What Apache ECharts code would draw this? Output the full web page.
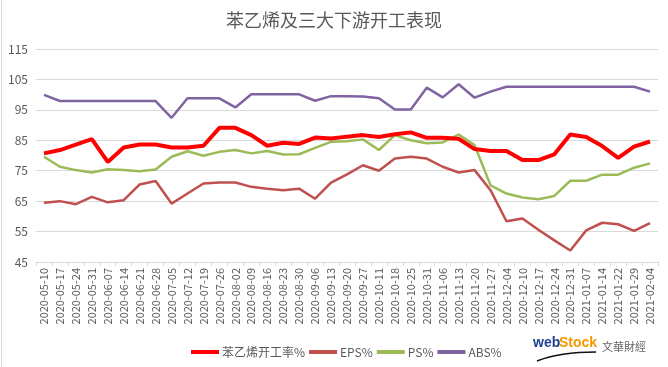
<!DOCTYPE html>
<html>
<head>
<meta charset="utf-8">
<script src="https://cdn.jsdelivr.net/npm/echarts@6/dist/echarts.min.js"></script>
<style>html,body{margin:0;padding:0;background:#fff}#c{width:668px;height:367px}</style>
</head>
<body>
<div id="c"></div>
<script>
var categories = ['2020-05-10','2020-05-17','2020-05-24','2020-05-31','2020-06-07','2020-06-14','2020-06-21','2020-06-28','2020-07-05','2020-07-12','2020-07-19','2020-07-26','2020-08-02','2020-08-09','2020-08-16','2020-08-23','2020-08-30','2020-09-06','2020-09-13','2020-09-20','2020-09-27','2020-10-11','2020-10-18','2020-10-25','2020-10-31','2020-11-06','2020-11-13','2020-11-20','2020-11-27','2020-12-04','2020-12-10','2020-12-17','2020-12-24','2020-12-31','2021-01-07','2021-01-14','2021-01-22','2021-01-29','2021-02-04'];
var styrene = [80.7,81.8,83.6,85.4,77.9,82.6,83.6,83.6,82.6,82.6,83.2,89.1,89.1,86.7,83.2,84.2,83.8,85.9,85.6,86.2,86.7,86.1,87.0,87.6,85.8,85.8,85.5,82.1,81.5,81.5,78.5,78.5,80.4,86.9,86.1,83.1,79.2,82.9,84.6];
var eps = [64.5,65.0,64.0,66.4,64.6,65.3,70.5,71.6,64.2,67.5,70.8,71.1,71.1,69.7,69.1,68.6,69.1,65.8,71.1,73.8,76.8,75.0,79.0,79.6,79.0,76.3,74.4,75.2,68.6,58.4,59.3,55.6,52.1,48.8,55.4,57.9,57.4,55.2,57.8];
var ps = [79.6,76.3,75.2,74.4,75.5,75.2,74.8,75.4,79.6,81.4,79.9,81.2,81.8,80.7,81.5,80.3,80.4,82.5,84.5,84.7,85.3,81.8,86.7,85.0,84.0,84.3,86.9,83.4,70.2,67.5,66.2,65.6,66.7,71.7,71.7,73.7,73.7,76.0,77.4];
var abs = [99.9,97.9,97.9,97.9,97.9,97.9,97.9,97.9,92.4,98.8,98.8,98.8,95.8,100.1,100.1,100.1,100.1,98.0,99.5,99.5,99.4,98.8,95.1,95.1,102.3,99.1,103.4,99.0,101.0,102.6,102.6,102.6,102.6,102.6,102.6,102.6,102.6,102.6,101.0];
var seriesNames = ['苯乙烯开工率%','EPS%','PS%','ABS%'];
var yTicks = {min:45, max:115, interval:10};

var chart = echarts.init(document.getElementById('c'), null, {renderer:'canvas'});
var txt = '#595959';
var font = '"Microsoft YaHei","Noto Sans CJK SC","Liberation Sans",sans-serif';
chart.setOption({
  animation:false,
  backgroundColor:'#fff',
  title:{text:'苯乙烯及三大下游开工表现', left:'center', top:6,
    textStyle:{color:txt, fontSize:18, fontWeight:'normal', fontFamily:'"Noto Sans CJK SC",sans-serif'}},
  grid:{left:36, right:10, top:49, bottom:105},
  legend:{data:seriesNames, left:186, top:341, itemWidth:28, itemHeight:4, itemGap:4, icon:'rect',
    textStyle:{color:txt, fontSize:12, fontFamily:font, padding:[0,0,0,-2]}},
  xAxis:{type:'category', data:categories, boundaryGap:true,
    axisLine:{lineStyle:{color:'#d9d9d9'}},
    axisTick:{show:true, length:4, lineStyle:{color:'#d9d9d9'}},
    axisLabel:{rotate:90, interval:0, color:txt, fontSize:11, margin:6, fontFamily:font}},
  yAxis:{type:'value', min:yTicks.min, max:yTicks.max, interval:yTicks.interval,
    axisLine:{show:false}, axisTick:{show:false},
    splitLine:{lineStyle:{color:'#d9d9d9'}},
    axisLabel:{color:txt, fontSize:12, margin:8, fontFamily:font}},
  series:[
    {name:seriesNames[0], type:'line', data:styrene, symbol:'none', lineStyle:{color:'#FF0000', width:4}, itemStyle:{color:'#FF0000'}, z:5},
    {name:seriesNames[1], type:'line', data:eps, symbol:'none', lineStyle:{color:'#C0504D', width:2.5}, itemStyle:{color:'#C0504D'}},
    {name:seriesNames[2], type:'line', data:ps, symbol:'none', lineStyle:{color:'#9BBB59', width:2.5}, itemStyle:{color:'#9BBB59'}},
    {name:seriesNames[3], type:'line', data:abs, symbol:'none', lineStyle:{color:'#8064A2', width:2.5}, itemStyle:{color:'#8064A2'}}
  ],
  graphic:[
    {type:'rect', left:1, top:0, shape:{width:1, height:367}, style:{fill:'#d9d9d9'}},
    {type:'text', left:533, top:336, style:{text:'web', fill:'#1F3F8F', font:'bold 14px "Liberation Sans",Arial,sans-serif'}},
    {type:'text', left:559, top:336, style:{text:'Stock', fill:'#F39800', font:'bold 14px "Liberation Sans",Arial,sans-serif'}},
    {type:'text', left:602, top:341, style:{text:'文華財經', fill:'#666', font:'11px "Noto Sans CJK TC",sans-serif'}},
    {type:'bezierCurve', shape:{x1:537, y1:361, cpx1:560, cpy1:352, x2:596, y2:352}, style:{stroke:'#111', lineWidth:1.5, fill:null}}
  ]
});
</script>
</body>
</html>
